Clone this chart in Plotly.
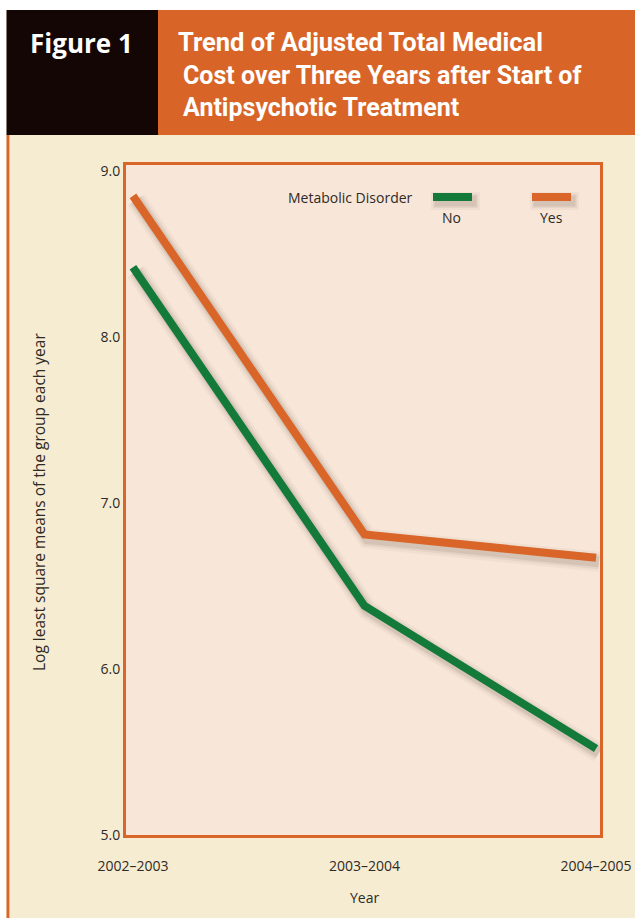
import plotly.graph_objects as go

# Figure data
years = ["2002–2003", "2003–2004", "2004–2005"]
no_disorder = [8.42, 6.38, 5.52]
yes_disorder = [8.85, 6.81, 6.67]
y_ticks = [5.0, 6.0, 7.0, 8.0, 9.0]

ORANGE = "#D96628"
GREEN = "#137A3A"
HEADER_ORANGE = "#D86527"
DARK = "#140604"
PAGE_BG = "#F6ECD2"
PLOT_BG = "#F8E6D8"
TEXT = "#2E2A26"

W, H = 635, 918
L, R, T, B = 126, 600, 165, 835  # plot area edges in pixels


def px(x):
    return (x - L) / (R - L)


def py(y):
    return (B - y) / (B - T)


xpos = list(range(len(years)))
x_range = [-0.030, 2.017]
y_range = [5.0, 9.036]
dx = (x_range[1] - x_range[0]) / (R - L)  # data units per pixel
dy = (y_range[1] - y_range[0]) / (B - T)

fig = go.Figure()

# Soft drop shadows under both lines
for vals in (no_disorder, yes_disorder):
    for w, a in ((20, 0.04), (15, 0.06), (11, 0.09)):
        fig.add_trace(go.Scatter(
            x=[x + 3 * dx for x in xpos],
            y=[v - 4 * dy for v in vals],
            mode="lines",
            line=dict(color=f"rgba(60,40,30,{a})", width=w),
            hoverinfo="skip", showlegend=False,
        ))

fig.add_trace(go.Scatter(x=xpos, y=no_disorder, mode="lines", name="No",
                         line=dict(color=GREEN, width=8), showlegend=False))
fig.add_trace(go.Scatter(x=xpos, y=yes_disorder, mode="lines", name="Yes",
                         line=dict(color=ORANGE, width=8), showlegend=False))

shapes = []


def rect(x0, y0, x1, y1, color, layer="below", opacity=1.0):
    shapes.append(dict(type="rect", xref="paper", yref="paper",
                       x0=px(x0), x1=px(x1), y0=py(y1), y1=py(y0),
                       fillcolor=color, line=dict(width=0), layer=layer,
                       opacity=opacity))


# Page frame: white margins, left orange rule, header blocks
rect(0, 0, W, 10, "white", layer="above")
rect(0, 0, 6.5, H, "white", layer="above")
rect(6.5, 135, 9, H, ORANGE, layer="above")
rect(9, 135, 10, H, "#F0B890", layer="above")
rect(6.5, 10, 158, 135, DARK, layer="above")
rect(158, 10, W, 135, HEADER_ORANGE, layer="above")

# Legend swatches with shadows
for x0, color in ((433, GREEN), (532, ORANGE)):
    for grow, a in ((5, 0.04), (3, 0.06), (1.5, 0.09)):
        rect(x0 + 3 - grow, 197 - grow, x0 + 42 + grow, 205 + grow,
             f"rgba(60,40,30,{a})", layer="above")
    rect(x0, 193, x0 + 39, 201, color, layer="above")

annotations = []


def text(x, y, s, size, color=TEXT, xanchor="center", family="Open Sans",
         textangle=0, yanchor="middle"):
    annotations.append(dict(x=px(x), y=py(y), xref="paper", yref="paper",
                            text=s, showarrow=False, xanchor=xanchor,
                            yanchor=yanchor, textangle=textangle,
                            font=dict(size=size, color=color, family=family)))


TITLE_FONT = "Roboto"
text(28, 43, "<b>Figure 1</b>", 26, color="white", xanchor="left",
     family="Open Sans")
text(176, 42, "<b>Trend of Adjusted Total Medical</b>", 25.5, color="white",
     xanchor="left", family=TITLE_FONT)
text(181, 75, "<b>Cost over Three Years after Start of</b>", 25,
     color="white", xanchor="left", family=TITLE_FONT)
text(181, 108, "<b>Antipsychotic Treatment</b>", 25, color="white",
     xanchor="left", family=TITLE_FONT)

# Legend text
text(415, 197, "Metabolic Disorder", 14, xanchor="right")
text(451, 217, "No", 14)
text(551, 217, "Yes", 14)

# Axis titles
text(364, 897, "Year", 14)
text(39, 502, "Log least square means of the group each year", 15.5,
     textangle=-90)

fig.update_layout(
    width=W, height=H,
    margin=dict(l=L, r=W - R, t=T, b=H - B),
    paper_bgcolor=PAGE_BG,
    plot_bgcolor=PLOT_BG,
    shapes=shapes,
    annotations=annotations,
    showlegend=False,
    xaxis=dict(range=x_range, tickvals=xpos, ticktext=years,
               showgrid=False, zeroline=False, ticks="", automargin=False,
               ticklabelstandoff=16, showline=True, mirror=True,
               linecolor=ORANGE, linewidth=3,
               tickfont=dict(size=14, color=TEXT, family="Open Sans")),
    yaxis=dict(range=y_range, tickvals=y_ticks, tickformat=".1f",
               showgrid=False, zeroline=False, ticks="", automargin=False,
               showline=True, mirror=True, linecolor=ORANGE, linewidth=3,
               tickfont=dict(size=14, color=TEXT, family="Open Sans")),
)

fig.write_html("out.html")
